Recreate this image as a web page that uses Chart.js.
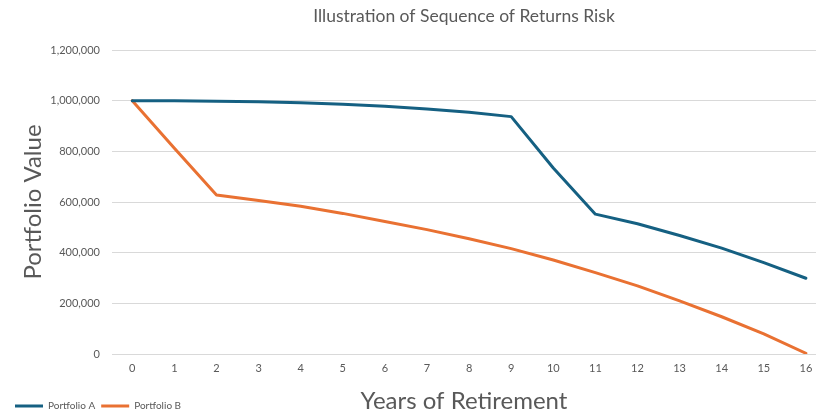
<!DOCTYPE html>
<html>
<head>
<meta charset="utf-8">
<script src="https://cdn.jsdelivr.net/npm/chart.js@4.4.1/dist/chart.umd.min.js"></script>
<style>
  html, body { margin: 0; padding: 0; background: #ffffff; overflow: hidden; }
  #wrap { position: relative; width: 816px; height: 417px; }
</style>
</head>
<body>
<div id="wrap"><canvas id="c"></canvas></div>
<script>
const chartTitle = "Illustration of Sequence of Returns Risk";
const xAxisTitle = "Years of Retirement";
const yAxisTitle = "Portfolio Value";
const years = [0, 1, 2, 3, 4, 5, 6, 7, 8, 9, 10, 11, 12, 13, 14, 15, 16];
const portfolioA = [1000000, 1000000, 998000, 996000, 992000, 986000, 978000, 967000, 954000, 937000, 734000, 552000, 514000, 468000, 418000, 361000, 299000];
const portfolioB = [1000000, 812000, 628000, 606000, 583000, 555000, 523000, 491000, 455000, 416000, 371000, 321000, 269000, 210000, 147000, 79000, 3000];
const seriesNames = ["Portfolio A", "Portfolio B"];
const yTicks = [0, 200000, 400000, 600000, 800000, 1000000, 1200000];

const FONT = "Lato, 'Open Sans', 'DejaVu Sans', sans-serif";
const GRAY = "#595959";
const colA = "#156082";
const colB = "#E97132";

const toPoints = arr => arr.map((v, i) => ({ x: years[i], y: v }));

new Chart(document.getElementById('c'), {
  type: 'line',
  data: {
    datasets: [
      { label: seriesNames[0], data: toPoints(portfolioA), borderColor: colA, backgroundColor: colA,
        borderWidth: 3, pointRadius: 0, tension: 0, borderJoinStyle: 'round', borderCapStyle: 'round' },
      { label: seriesNames[1], data: toPoints(portfolioB), borderColor: colB, backgroundColor: colB,
        borderWidth: 3, pointRadius: 0, tension: 0, borderJoinStyle: 'round', borderCapStyle: 'round' }
    ]
  },
  options: {
    responsive: true,
    maintainAspectRatio: false,
    animation: false,
    devicePixelRatio: 1,
    layout: { padding: { left: 9, right: 0, top: 0, bottom: -4 } },
    plugins: {
      tooltip: { enabled: false },
      title: {
        display: true,
        text: chartTitle,
        fullSize: false,
        color: GRAY,
        font: { family: FONT, size: 17.5, weight: 'normal' },
        padding: { top: 6, bottom: 23 }
      },
      legend: {
        display: true,
        position: 'bottom',
        align: 'start',
        labels: {
          color: GRAY,
          font: { family: FONT, size: 10 },
          boxWidth: 28,
          boxHeight: 3,
          padding: 6,
          generateLabels: chart => Chart.defaults.plugins.legend.labels.generateLabels(chart).map(l => Object.assign(l, { lineWidth: 0 }))
        }
      }
    },
    scales: {
      x: {
        type: 'linear',
        min: -0.482,
        max: 16.24,
        afterBuildTicks: s => { s.ticks = years.map(v => ({ value: v })); },
        afterFit: s => { s.height = 41; s.paddingLeft = 0; s.paddingRight = 0; },
        grid: { display: false, drawTicks: false },
        border: { display: false },
        ticks: { color: GRAY, font: { family: FONT, size: 11 }, padding: 8, maxRotation: 0, autoSkip: false,
                 callback: v => String(v) },
        title: { display: true, text: xAxisTitle, color: GRAY, font: { family: FONT, size: 24 },
                 padding: { top: 0, bottom: -21 } }
      },
      y: {
        min: 0,
        max: 1200000,
        afterBuildTicks: s => { s.ticks = yTicks.map(v => ({ value: v })); },
        afterFit: s => { s.width = 103; },
        grid: { color: '#d9d9d9', lineWidth: 1, drawTicks: false },
        border: { display: false },
        ticks: { color: GRAY, font: { family: FONT, size: 11 }, padding: 12,
                 callback: v => Number(v).toLocaleString('en-US') },
        title: { display: true, text: yAxisTitle, color: GRAY, font: { family: FONT, size: 24 },
                 padding: { top: 10, bottom: 0 } }
      }
    }
  }
});
</script>
</body>
</html>
